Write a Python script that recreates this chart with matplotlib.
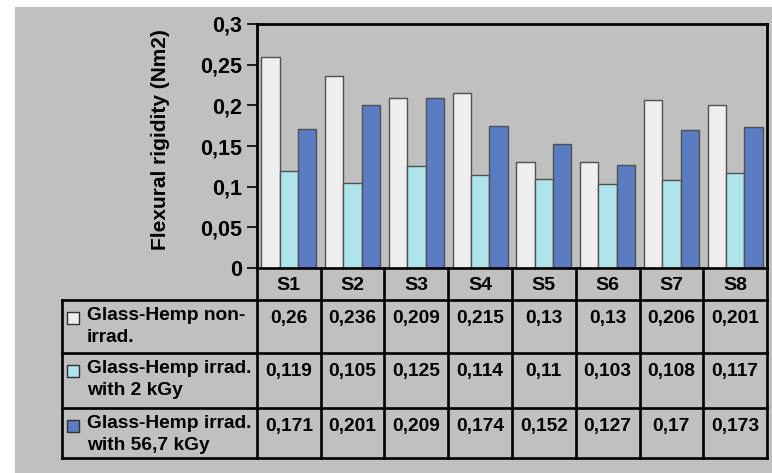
import matplotlib.pyplot as plt
from matplotlib.patches import Rectangle
from matplotlib.ticker import FuncFormatter
import numpy as np

plt.rcParams['font.family'] = ['Liberation Sans', 'DejaVu Sans']
plt.rcParams['font.weight'] = 'bold'

samples = ['S1', 'S2', 'S3', 'S4', 'S5', 'S6', 'S7', 'S8']
non_irrad = [0.26, 0.236, 0.209, 0.215, 0.13, 0.13, 0.206, 0.201]
irrad_2kgy = [0.119, 0.105, 0.125, 0.114, 0.11, 0.103, 0.108, 0.117]
irrad_56kgy = [0.171, 0.201, 0.209, 0.174, 0.152, 0.127, 0.17, 0.173]
series_labels = ['Glass-Hemp non-\nirrad.', 'Glass-Hemp irrad.\nwith 2 kGy',
                 'Glass-Hemp irrad.\nwith 56,7 kGy']
series = [non_irrad, irrad_2kgy, irrad_56kgy]
colors = ['#eeeeee', '#aee4ec', '#5b7bc2']
BG = '#c0c0c0'

W, H = 772, 473
fig = plt.figure(figsize=(W / 100, H / 100), dpi=100)
fig.patch.set_facecolor('white')
fig.patches.append(Rectangle((15 / W, 0), 1 - 15 / W, 1 - 7 / H, transform=fig.transFigure,
                             facecolor=BG, edgecolor='none', zorder=-10))

# bar chart
ax = fig.add_axes([257 / W, (H - 268) / H, 510 / W, (268 - 24) / H])
ax.set_facecolor(BG)
x = np.arange(len(samples))
bw = 0.287
for i, (vals, c) in enumerate(zip(series, colors)):
    ax.bar(x + (i - 1) * bw, vals, bw, color=c, edgecolor='#505050', linewidth=1)
ax.set_xlim(-0.5, len(samples) - 0.5)
ax.set_ylim(0, 0.3)
ax.set_yticks(np.arange(0, 0.301, 0.05))
ax.yaxis.set_major_formatter(FuncFormatter(lambda v, p: ('%g' % round(v, 3)).replace('.', ',')))
ax.tick_params(axis='y', length=7, width=1.2, pad=4, labelsize=15.5)
ax.set_xticks([])
for s in ['top', 'left', 'right']:
    ax.spines[s].set_linewidth(2)
ax.spines['bottom'].set_visible(False)
ax.set_ylabel('Flexural rigidity (Nm2)', fontsize=15, fontweight='bold')
ax.yaxis.set_label_coords(-0.171, 0.525)

# data table
tab = fig.add_axes([62 / W, (H - 458) / H, 705 / W, 190 / H])
tab.set_facecolor('none')
tab.axis('off')
left = -0.5 - (257 - 62) / 63.75
tab.set_xlim(left, len(samples) - 0.5)
rows = [0, 32, 85, 140, 190]
tab.set_ylim(rows[-1], rows[0])
lw = 1.9
for k in range(len(samples) + 1):
    tab.plot([k - 0.5, k - 0.5], [rows[0], rows[-1]], color='black', lw=lw, clip_on=False)
tab.plot([left, left], [rows[1], rows[-1]], color='black', lw=lw, clip_on=False)
tab.plot([-0.5, len(samples) - 0.5], [rows[0], rows[0]], color='black', lw=lw, clip_on=False)
for r in rows[1:]:
    tab.plot([left, len(samples) - 0.5], [r, r], color='black', lw=lw, clip_on=False)
for j, s in enumerate(samples):
    tab.text(j, 17, s, ha='center', va='center', fontsize=14, fontweight='bold')
for i, (vals, lab, c) in enumerate(zip(series, series_labels, colors)):
    top = rows[i + 1]
    for j, v in enumerate(vals):
        tab.text(j, top + 18, ('%g' % v).replace('.', ','), ha='center', va='center',
                 fontsize=13.8, fontweight='bold')
    tab.add_patch(Rectangle((left + 5 / 63.75, top + 12), 12 / 63.75, 12, facecolor=c,
                            edgecolor='#303030', lw=1))
    tab.text(left + 25 / 63.75, top + 7, lab, ha='left', va='top', fontsize=13.8,
             fontweight='bold', linespacing=1.4)

plt.savefig('out.png', dpi=100, facecolor=fig.get_facecolor())
